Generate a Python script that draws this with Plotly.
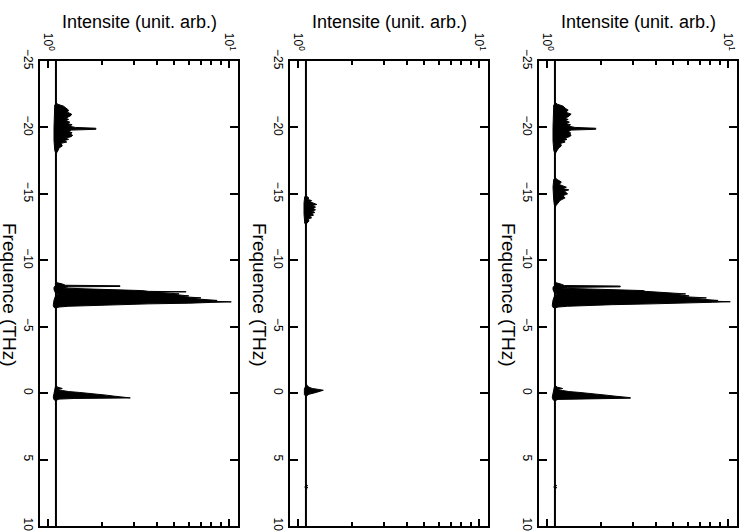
import plotly.graph_objects as go

# ---------------- data (frequency THz, intensity arb.) ----------------
FREQ_TICKS = [-25, -20, -15, -10, -5, 0, 5, 10]
INT_MAJOR = [1, 10]
INT_MAJOR_TEXT = ["10<sup>0</sup>", "10<sup>1</sup>"]
INT_MINOR = [2, 3, 4, 5, 6, 7, 8, 9]

BASE_LEVEL = 1.107
BASE_F = [-25.0, 10.0]

# Panel 1 clusters: outline points (freq, intensity)
P1_C20 = [(-21.9, 1.107), (-21.75, 1.13), (-21.6, 1.22), (-21.45, 1.27), (-21.3, 1.3),
          (-21.15, 1.28), (-21.0, 1.35), (-20.9, 1.34), (-20.8, 1.3), (-20.7, 1.26),
          (-20.6, 1.3), (-20.5, 1.25), (-20.4, 1.32), (-20.3, 1.28), (-20.2, 1.36),
          (-20.1, 1.3), (-20.0, 1.42), (-19.94, 1.84), (-19.86, 1.84), (-19.8, 1.35),
          (-19.7, 1.3), (-19.6, 1.36), (-19.5, 1.33), (-19.4, 1.37), (-19.3, 1.34),
          (-19.2, 1.25), (-19.1, 1.3), (-19.0, 1.22), (-18.9, 1.27), (-18.8, 1.18),
          (-18.6, 1.2), (-18.45, 1.15), (-18.3, 1.14), (-18.15, 1.12), (-18.0, 1.107),
          (-18.3, 1.09), (-19.0, 1.08), (-20.0, 1.08), (-21.0, 1.08), (-21.7, 1.09)]
P1_C7 = [(-8.4, 1.107), (-8.3, 1.13), (-8.22, 1.2), (-8.12, 1.25), (-8.08, 2.5),
         (-8.03, 2.5), (-8.0, 1.3), (-7.92, 1.2), (-7.85, 1.6), (-7.78, 3.0),
         (-7.72, 3.3), (-7.66, 3.6), (-7.63, 5.8), (-7.59, 3.9), (-7.52, 4.5),
         (-7.47, 5.3), (-7.42, 5.0), (-7.37, 5.7), (-7.32, 6.0), (-7.27, 5.4),
         (-7.22, 6.6), (-7.17, 7.0), (-7.12, 6.2), (-7.05, 7.5), (-6.98, 8.6),
         (-6.92, 7.9), (-6.87, 10.3), (-6.83, 8.0), (-6.77, 6.0), (-6.72, 3.6),
         (-6.66, 2.2), (-6.6, 1.6), (-6.54, 1.3), (-6.48, 1.15), (-6.4, 1.107),
         (-6.45, 1.08), (-6.6, 1.07), (-7.0, 1.08), (-7.3, 1.1), (-7.45, 1.14),
         (-7.55, 1.1), (-7.8, 1.08), (-7.95, 1.08), (-8.1, 1.1), (-8.3, 1.1)]
P1_C0 = [(-0.6, 1.107), (-0.45, 1.13), (-0.35, 1.2), (-0.28, 1.12), (-0.2, 1.2),
         (-0.12, 1.3), (-0.05, 1.5), (0.02, 1.75), (0.08, 1.9), (0.15, 2.1),
         (0.22, 2.3), (0.28, 2.6), (0.32, 2.85), (0.36, 2.85), (0.4, 1.4),
         (0.45, 1.15), (0.55, 1.107), (0.5, 1.08), (0.3, 1.07), (0.0, 1.08),
         (-0.3, 1.09), (-0.5, 1.1)]

# Panel 2 clusters
P2_C15 = [(-14.95, 1.107), (-14.8, 1.12), (-14.68, 1.15), (-14.58, 1.13), (-14.5, 1.19),
          (-14.4, 1.17), (-14.3, 1.22), (-14.2, 1.27), (-14.12, 1.2), (-14.0, 1.25),
          (-13.9, 1.21), (-13.8, 1.25), (-13.7, 1.2), (-13.6, 1.24), (-13.5, 1.18),
          (-13.4, 1.22), (-13.3, 1.16), (-13.2, 1.19), (-13.1, 1.14), (-12.95, 1.15),
          (-12.8, 1.12), (-12.65, 1.107), (-12.8, 1.09), (-13.5, 1.08), (-14.3, 1.08),
          (-14.8, 1.09)]
P2_C0 = [(-0.75, 1.107), (-0.6, 1.12), (-0.45, 1.15), (-0.35, 1.2), (-0.28, 1.3),
         (-0.22, 1.38), (-0.15, 1.33), (-0.08, 1.25), (0.0, 1.22), (0.08, 1.15),
         (0.16, 1.12), (0.25, 1.107), (0.1, 1.085), (-0.1, 1.08), (-0.3, 1.085),
         (-0.5, 1.1)]
P2_C7 = [(6.85, 1.107), (6.95, 1.13), (7.02, 1.1), (7.1, 1.135), (7.2, 1.107), (7.05, 1.09)]

# Panel 3 clusters
P3_C20 = [(-21.9, 1.107), (-21.75, 1.14), (-21.6, 1.23), (-21.45, 1.26), (-21.3, 1.31),
          (-21.15, 1.27), (-21.0, 1.36), (-20.9, 1.33), (-20.8, 1.31), (-20.7, 1.25),
          (-20.6, 1.31), (-20.5, 1.26), (-20.4, 1.33), (-20.3, 1.27), (-20.2, 1.35),
          (-20.1, 1.31), (-20.0, 1.43), (-19.94, 1.86), (-19.86, 1.86), (-19.8, 1.36),
          (-19.7, 1.31), (-19.6, 1.35), (-19.5, 1.34), (-19.4, 1.36), (-19.3, 1.33),
          (-19.2, 1.26), (-19.1, 1.29), (-19.0, 1.23), (-18.9, 1.26), (-18.8, 1.19),
          (-18.6, 1.2), (-18.45, 1.16), (-18.3, 1.14), (-18.15, 1.12), (-18.0, 1.107),
          (-18.3, 1.09), (-19.0, 1.08), (-20.0, 1.08), (-21.0, 1.08), (-21.7, 1.09)]
P3_C15 = [(-16.3, 1.107), (-16.1, 1.13), (-15.9, 1.2), (-15.7, 1.17), (-15.5, 1.28),
          (-15.4, 1.22), (-15.3, 1.32), (-15.2, 1.25), (-15.0, 1.3), (-14.85, 1.22),
          (-14.7, 1.26), (-14.5, 1.18), (-14.3, 1.15), (-14.1, 1.12), (-13.9, 1.107),
          (-14.5, 1.09), (-15.5, 1.08), (-16.1, 1.09)]
P3_C7 = [(-8.4, 1.107), (-8.3, 1.13), (-8.2, 1.2), (-8.1, 1.25), (-8.06, 2.54),
         (-8.0, 2.54), (-7.96, 1.3), (-7.9, 1.2), (-7.84, 1.7), (-7.78, 3.1),
         (-7.72, 3.4), (-7.66, 3.5), (-7.6, 4.2), (-7.52, 4.6), (-7.47, 5.84),
         (-7.42, 5.1), (-7.37, 5.6), (-7.32, 6.1), (-7.27, 5.5), (-7.22, 6.8),
         (-7.17, 7.6), (-7.12, 6.4), (-7.05, 7.7), (-6.98, 8.8), (-6.93, 8.0),
         (-6.88, 10.3), (-6.84, 8.2), (-6.78, 6.2), (-6.72, 3.8), (-6.66, 2.3),
         (-6.6, 1.6), (-6.54, 1.3), (-6.48, 1.15), (-6.4, 1.107), (-6.45, 1.08),
         (-6.6, 1.07), (-7.0, 1.08), (-7.3, 1.1), (-7.45, 1.14), (-7.55, 1.1),
         (-7.8, 1.08), (-7.95, 1.08), (-8.1, 1.1), (-8.3, 1.1)]
P3_C0 = [(-0.6, 1.107), (-0.45, 1.14), (-0.35, 1.22), (-0.28, 1.13), (-0.2, 1.22),
         (-0.12, 1.32), (-0.05, 1.52), (0.02, 1.78), (0.08, 1.93), (0.15, 2.12),
         (0.22, 2.35), (0.28, 2.65), (0.34, 2.89), (0.38, 2.89), (0.42, 1.4),
         (0.47, 1.15), (0.57, 1.107), (0.5, 1.08), (0.3, 1.07), (0.0, 1.08),
         (-0.3, 1.09), (-0.5, 1.1)]
P3_C7b = [(6.85, 1.107), (6.95, 1.13), (7.02, 1.1), (7.1, 1.135), (7.2, 1.107), (7.05, 1.09)]

PANELS = [
    [P1_C20, P1_C7, P1_C0],
    [P2_C15, P2_C0, P2_C7],
    [P3_C20, P3_C15, P3_C7, P3_C0, P3_C7b],
]

X_TITLE = "Intensite (unit. arb.)"
Y_TITLE = "Frequence (THz)"

# ---------------- layout geometry (pixels) ----------------
W, H = 744, 532
PANEL_PX = [(40, 238), (290, 488), (539, 737)]
TOP_PX, BOT_PX = 61, 526
FONT = "Liberation Sans, Arial, Helvetica, sans-serif"

fig = go.Figure()
layout = dict(
    width=W, height=H, autosize=False, margin=dict(l=0, r=0, t=0, b=0, pad=0, autoexpand=False),
    paper_bgcolor="white", plot_bgcolor="white", showlegend=False,
    font=dict(family=FONT, color="black", size=12),
)
annotations = []
for k, (clusters, (x0, x1)) in enumerate(zip(PANELS, PANEL_PX), start=1):
    xa = "x" if k == 1 else f"x{k}"
    ya = "y" if k == 1 else f"y{k}"
    fig.add_trace(go.Scatter(x=[BASE_LEVEL] * len(BASE_F), y=BASE_F, mode="lines",
                             line=dict(color="black", width=2), xaxis=xa, yaxis=ya,
                             hoverinfo="skip"))
    for c in clusters:
        fig.add_trace(go.Scatter(x=[p[1] for p in c], y=[p[0] for p in c], mode="lines",
                                 fill="toself", fillcolor="black",
                                 line=dict(color="black", width=1), xaxis=xa, yaxis=ya,
                                 hoverinfo="skip"))
    layout["xaxis" if k == 1 else f"xaxis{k}"] = dict(
        type="log", range=[-0.044, 1.05], domain=[x0 / W, x1 / W],
        anchor=ya, side="top", showgrid=False, zeroline=False, automargin=False,
        showline=True, linecolor="black", linewidth=2, mirror="ticks",
        ticks="inside", ticklen=7, tickwidth=1.5, tickcolor="black",
        tickmode="array", tickvals=INT_MAJOR, ticktext=INT_MAJOR_TEXT,
        tickangle=90, tickfont=dict(size=12, family=FONT),
        ticklabelstandoff=4,
        minor=dict(tickmode="array", tickvals=INT_MINOR, ticks="inside", ticklen=4,
                   tickwidth=1.5, tickcolor="black", showgrid=False),
    )
    layout["yaxis" if k == 1 else f"yaxis{k}"] = dict(
        range=[10, -25], domain=[1 - BOT_PX / H, 1 - TOP_PX / H],
        anchor=xa, showgrid=False, zeroline=False, automargin=False,
        showline=True, linecolor="black", linewidth=2, mirror="ticks",
        ticks="inside", ticklen=8, tickwidth=1.5, tickcolor="black",
        tickmode="array", tickvals=FREQ_TICKS, tickangle=90,
        tickfont=dict(size=12, family=FONT), ticklabelstandoff=0,
    )
    annotations.append(dict(text=X_TITLE, xref="paper", yref="paper",
                            x=(x0 + x1) / 2 / W, y=1 - 22 / H, showarrow=False,
                            xanchor="center", yanchor="middle",
                            font=dict(size=18, family=FONT, color="black")))
    annotations.append(dict(text=Y_TITLE, xref="paper", yref="paper",
                            x=(x0 - 30) / W, y=1 - 295 / H, showarrow=False,
                            textangle=90, xanchor="center", yanchor="middle",
                            font=dict(size=19, family=FONT, color="black")))
layout["annotations"] = annotations
fig.update_layout(**layout)
fig.write_html("out.html", config={"displayModeBar": False},
               post_script="document.body.style.margin='0';document.body.style.overflow='hidden';")
